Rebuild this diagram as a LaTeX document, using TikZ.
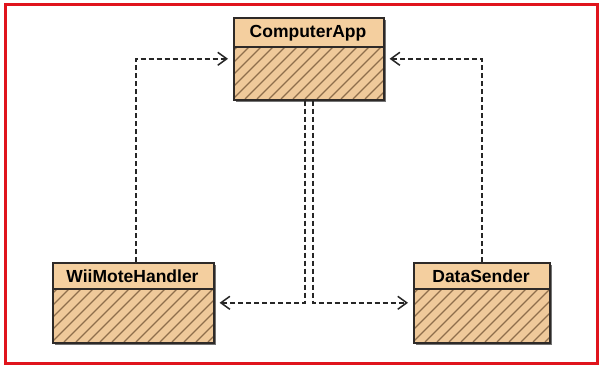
\documentclass[tikz,border=0pt]{standalone}
\usepackage{fontspec}
\setmainfont{Liberation Sans}
\usetikzlibrary{arrows.meta}
\definecolor{hdrfill}{HTML}{F4CF9F}
\definecolor{bodyfill}{HTML}{EFC99A}
\definecolor{hatchc}{HTML}{8E6E4C}
\definecolor{edgec}{HTML}{2E2A28}
\definecolor{framered}{HTML}{E0141C}
\tikzset{
  classbox/.style={draw=edgec, line width=1.6pt, rectangle, inner sep=0pt},
  dep/.style={draw=black!85, line width=1.6pt, dash pattern=on 5pt off 3pt,
    -{Straight Barb[length=9pt,width=13pt,line width=1.5pt]}, shorten >=5pt},
  lbl/.style={font=\bfseries\fontsize{17.5}{19}\selectfont, text=black, inner sep=0pt}
}
% \umlclass{name}{x1}{y1}{x2}{y2}{ydiv}{text}
\newcommand{\umlclass}[7]{%
  \fill[black!55] (#2+3,#3+3) rectangle (#4+3,#5+3);
  \fill[hdrfill] (#2,#3) rectangle (#4,#6);
  \fill[bodyfill] (#2,#6) rectangle (#4,#5);
  \begin{scope}
    \clip (#2,#6) rectangle (#4,#5);
    \foreach \k in {-120,-108,...,200} {
      \draw[hatchc, line width=1.2pt] (#2+\k,#5) -- ++(110,-110);
    }
  \end{scope}
  \draw[edgec, line width=1.4pt] (#2,#6) -- (#4,#6);
  \node[classbox, minimum width=#4-#2, minimum height=#5-#3, anchor=north west] (#1) at (#2,#3) {};
  \node[lbl] (#1-t) at ({(#2+#4)/2},{(#3+#6)/2+1}) {#7};
}
\begin{document}
\begin{tikzpicture}[x=1pt,y=-1pt]
\useasboundingbox (0,0) rectangle (601,367);
\fill[white] (0,0) rectangle (601,367);
\draw[framered, line width=3pt] (5.5,4.5) rectangle (597,363.5);

\umlclass{ca}{233}{17}{383}{99}{47}{ComputerApp}
\umlclass{wh}{52}{262}{213}{342}{289}{WiiMoteHandler}
\umlclass{ds}{413}{262}{549}{342}{289}{DataSender}

\draw[dep] ([xshift=2.5pt]wh.north) |- (ca.west);
\draw[dep] (ds.north) |- (ca.east);
\draw[dep] ([xshift=-4pt]ca.south) |- (wh.east);
\draw[dep] ([xshift=4pt]ca.south) |- (ds.west);
\end{tikzpicture}
\end{document}
